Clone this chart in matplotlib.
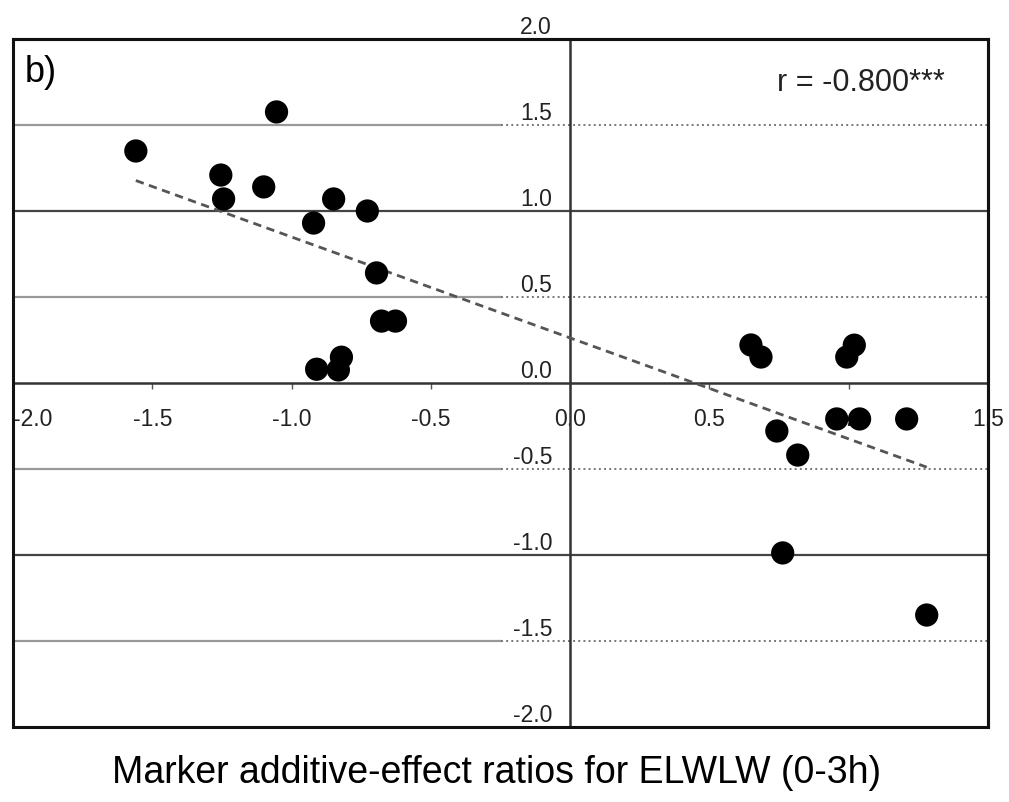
import numpy as np
import matplotlib
matplotlib.use("Agg")
import matplotlib.pyplot as plt
from matplotlib.patches import Rectangle

plt.rcParams['font.family'] = ['Liberation Sans', 'DejaVu Sans']

# marker additive-effect ratios (x) vs second trait ratios (y)
x_vals = [-1.559, -1.054, -1.254, -1.244, -1.100, -0.849, -0.921, -0.728,
          -0.695, -0.677, -0.627, -0.910, -0.821, -0.832,
          0.649, 0.685, 1.020, 0.993, 0.957, 1.039, 1.208, 0.742, 0.817,
          0.763, 1.280]
y_vals = [1.349, 1.576, 1.209, 1.070, 1.140, 1.070, 0.930, 1.000,
          0.640, 0.360, 0.360, 0.080, 0.150, 0.076,
          0.221, 0.151, 0.220, 0.151, -0.209, -0.209, -0.209, -0.279, -0.419,
          -0.988, -1.349]

# trend line
trend_slope = -0.587
trend_intercept = 0.262
r_text = "r = -0.800***"

x_ticks = [-2.0, -1.5, -1.0, -0.5, 0.0, 0.5, 1.0, 1.5]
y_ticks = [-2.0, -1.5, -1.0, -0.5, 0.0, 0.5, 1.0, 1.5, 2.0]

fig = plt.figure(figsize=(10.09, 8.02), dpi=100)
ax = fig.add_axes([13 / 1009, 1 - 727 / 802, 975 / 1009, 688 / 802])
ax.set_xlim(-2.0, 1.5)
ax.set_ylim(-2.0, 2.0)

# grid lines: whole units dark, half units light / dotted
for v in [-1.0, 1.0]:
    ax.axhline(v, color='#444444', lw=1.6, zorder=1)
for v in [-1.5, -0.5, 0.5, 1.5]:
    ax.plot([-2.0, -0.25], [v, v], color='#999999', lw=1.6, zorder=1)
    ax.plot([-0.25, 1.5], [v, v], color='#777777', lw=1.4, ls=':', zorder=1)

# axes crossing at zero
for side in ['left', 'bottom']:
    ax.spines[side].set_position(('data', 0))
    ax.spines[side].set_color('#333333')
    ax.spines[side].set_linewidth(1.8)
for side in ['top', 'right']:
    ax.spines[side].set_linewidth(2.2)
    ax.spines[side].set_color('#111111')
ax.add_patch(Rectangle((0, 0), 1, 1, transform=ax.transAxes, fill=False,
                       edgecolor='#111111', lw=2.2, clip_on=False, zorder=5))

ax.set_xticks(x_ticks)
ax.set_xticklabels([f"{t:.1f}" for t in x_ticks])
ax.set_yticks(y_ticks)
ax.set_yticklabels([f"{t:.1f}" for t in y_ticks])
ax.tick_params(axis='x', direction='out', length=4, width=1, color='#555555',
               pad=14, labelsize=16.5, labelcolor='#222222')
ax.tick_params(axis='y', length=0, pad=13, labelsize=16.5, labelcolor='#222222')
for lab in ax.get_yticklabels():
    lab.set_va('bottom')
# first x label sits at the figure edge
ax.get_xticklabels()[0].set_ha('left')
ax.get_xticklabels()[0].set_x(-2.0)

# data
ax.scatter(x_vals, y_vals, s=280, color='black', zorder=4, edgecolors='none')

xs = np.array([min(x_vals), max(x_vals)])
ax.plot(xs, trend_slope * xs + trend_intercept, color='#555555', lw=2,
        ls=(0, (3, 2)), zorder=3)

ax.text(0.012, 0.952, "b)", transform=ax.transAxes, fontsize=26,
        ha='left', va='center')
ax.text(0.870, 0.936, r_text, transform=ax.transAxes, fontsize=22,
        ha='center', va='center', color='#222222')

fig.text(0.492, 0.036, "Marker additive-effect ratios for ELWLW (0-3h)",
         fontsize=27, ha='center', va='center')

fig.savefig("out.png", dpi=100)
